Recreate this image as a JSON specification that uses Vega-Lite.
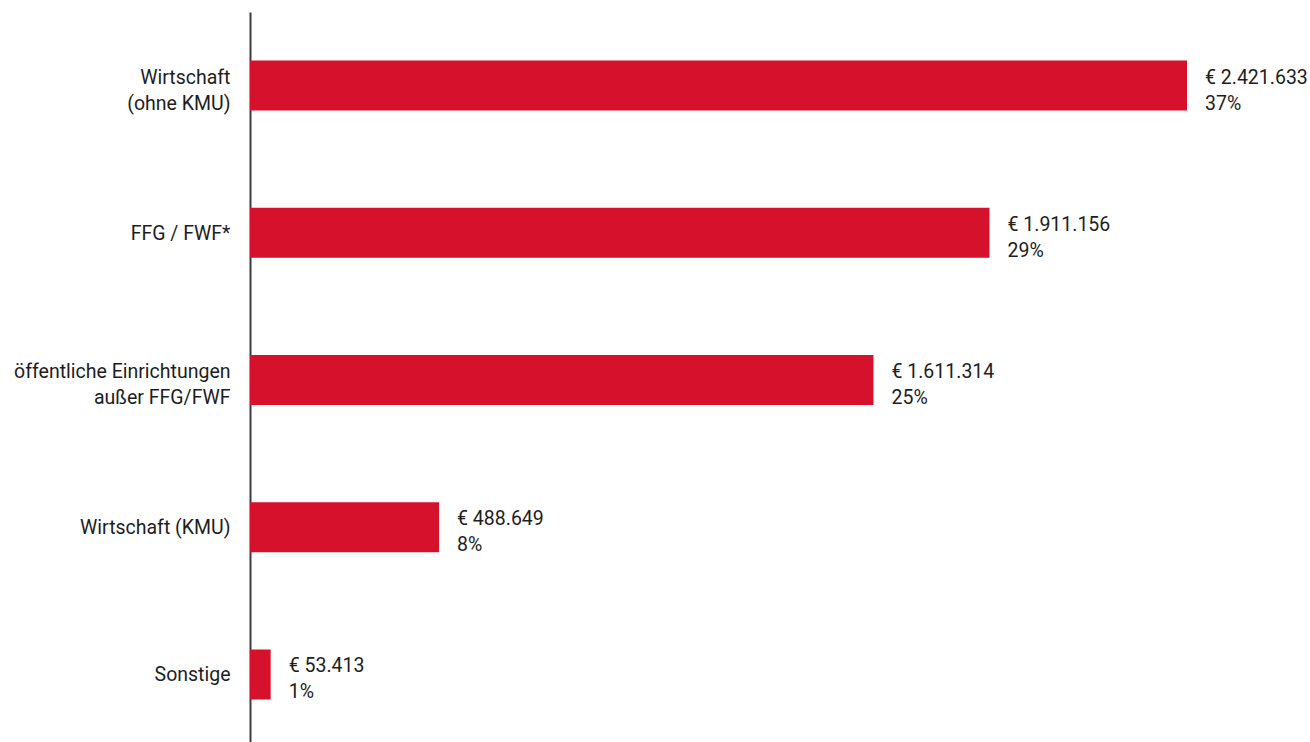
{
  "$schema": "https://vega.github.io/schema/vega-lite/v6.json",
  "width": 1060,
  "height": 736,
  "autosize": {"type": "none"},
  "padding": {"left": 250, "top": 12, "right": 0, "bottom": 0},
  "background": "white",
  "config": {"view": {"stroke": null}, "font": "Roboto"},
  "data": {
    "values": [
      {"cat": "Wirtschaft|(ohne KMU)", "value": 2421633, "label": ["€ 2.421.633", "37%"]},
      {"cat": "FFG / FWF*", "value": 1911156, "label": ["€ 1.911.156", "29%"]},
      {"cat": "öffentliche Einrichtungen|außer FFG/FWF", "value": 1611314, "label": ["€ 1.611.314", "25%"]},
      {"cat": "Wirtschaft (KMU)", "value": 488649, "label": ["€ 488.649", "8%"]},
      {"cat": "Sonstige", "value": 53413, "label": ["€ 53.413", "1%"]}
    ]
  },
  "encoding": {
    "y": {
      "field": "cat", "type": "nominal", "sort": null, "title": null,
      "scale": {"paddingInner": 0.66, "paddingOuter": 0.33},
      "axis": {
        "domainColor": "#3c3c3c", "domainWidth": 2, "ticks": false,
        "labelFontSize": 19.5, "labelColor": "#1e1e1e", "labelPadding": 20,
        "labelLineHeight": 26, "labelLimit": 400,
        "labelOffset": {"condition": {"test": "indexof(datum.value, '|') >= 0", "value": -8}, "value": 1},
        "labelExpr": "split(datum.value, '|')"
      }
    },
    "x": {
      "field": "value", "type": "quantitative",
      "scale": {"domain": [0, 2739500], "nice": false},
      "axis": null
    }
  },
  "layer": [
    {"mark": {"type": "bar", "color": "#D5112B", "orient": "horizontal"}},
    {"mark": {"type": "text", "align": "left", "baseline": "middle", "dx": 18, "dy": -8, "fontSize": 19.5, "lineHeight": 26, "color": "#1e1e1e"},
     "encoding": {"text": {"field": "label"}}}
  ]
}
